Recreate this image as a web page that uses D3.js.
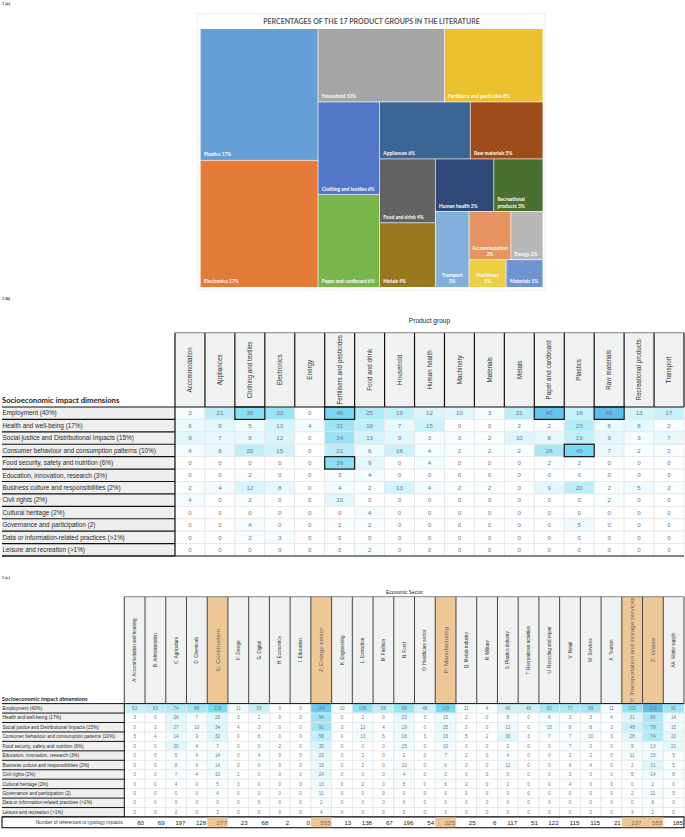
<!DOCTYPE html>
<html lang="en">
<head>
  <meta charset="UTF-8">
  <title>Product groups and socioeconomic impacts</title>
  <script src="https://d3js.org/d3.v7.min.js"></script>
  <style>
    html, body { margin: 0; background: #fff; }
    svg { display: block; }
    text { font-family: "Liberation Sans", Arial, sans-serif; }
    .calibri { font-family: Lato, sans-serif; }
  </style>
</head>
<body>
<svg id="canvas" width="685" height="837"></svg>
<script>
// ----- panel (a) treemap -----
const treemapNames = ["Plastics", "Electronics", "Household", "Fertilisers and pesticides", "Clothing and textiles",
  "Paper and cardboard", "Appliances", "Raw materials", "Food and drink", "Metals", "Human health",
  "Recreational products", "Transport", "Accommodation", "Energy", "Machinery", "Materials"];
const treemapShare = [17.4, 16.8, 10.4, 8.1, 6.4, 6.4, 5.8, 4.65, 4.0, 4.04, 3.45, 2.9, 2.87, 2.27, 1.74, 1.15, 1.14];
const treemapColors = ["#659fd6", "#e57b39", "#a5a5a5", "#ebc12f", "#5277c6", "#78b64b", "#3a6594", "#a04c1a",
  "#636363", "#97781e", "#304978", "#4a702f", "#82afdb", "#e69460", "#b7b7b7", "#edcf43", "#7093d2"];
// how the tiles nest, alternating left-right and top-bottom splits (indexes into the arrays above)
const treemapNesting = [[0, 1], [[2, 3], [[4, 5], [[6, 7], [[8, 9], [[10, 11], [[12], [[13, 14], [15, 16]]]]]]]]];
const wrappedLeft = ["Recreational products"];
const wrappedCentre = ["Transport", "Accommodation", "Machinery"];

// ----- panel (b) product groups -----
const productGroups = ["Accommodation", "Appliances", "Clothing and textiles", "Electronics", "Energy",
  "Fertilisers and pesticides", "Food and drink", "Household", "Human health", "Machinery", "Materials", "Metals",
  "Paper and cardboard", "Plastics", "Raw materials", "Recreational products", "Transport"];
const dimensions = ["Employment (40%)", "Health and well-being (17%)", "Social justice and Distributional Impacts (15%)",
  "Consumer behaviour and consumption patterns (10%)", "Food security, safety and nutrition (6%)",
  "Education, innovation, research (3%)", "Business culture and responsibilities (2%)", "Civil rights (2%)",
  "Cultural heritage (2%)", "Governance and participation (2)", "Data or information-related practices (>1%)",
  "Leisure and recreation (>1%)"];
const productValues = [
  [3, 21, 38, 33, 0, 46, 25, 19, 12, 10, 3, 21, 60, 18, 65, 13, 17],
  [6, 9, 5, 13, 4, 31, 19, 7, 15, 0, 0, 2, 2, 23, 6, 8, 2],
  [9, 7, 8, 12, 0, 34, 13, 9, 3, 3, 2, 10, 8, 19, 9, 3, 7],
  [4, 8, 20, 15, 0, 21, 6, 16, 4, 2, 2, 2, 28, 45, 7, 2, 2],
  [0, 0, 0, 0, 0, 39, 9, 0, 4, 0, 0, 0, 2, 2, 0, 0, 0],
  [0, 0, 2, 0, 0, 3, 4, 0, 0, 0, 0, 0, 0, 0, 0, 0, 0],
  [2, 4, 12, 8, 0, 4, 2, 13, 4, 2, 2, 0, 9, 20, 2, 5, 2],
  [4, 0, 2, 0, 0, 10, 0, 0, 0, 0, 0, 0, 0, 0, 2, 0, 0],
  [0, 0, 0, 0, 0, 0, 4, 0, 0, 0, 0, 0, 0, 0, 0, 0, 0],
  [0, 0, 4, 0, 0, 2, 2, 0, 0, 0, 0, 0, 0, 5, 0, 0, 0],
  [0, 0, 2, 3, 0, 0, 0, 0, 0, 0, 0, 0, 0, 0, 0, 0, 0],
  [0, 0, 0, 0, 0, 0, 2, 0, 0, 0, 0, 0, 0, 0, 0, 0, 0]
];
const productBoxed = [[0, 2], [0, 5], [0, 12], [0, 14], [3, 13], [4, 5]];

// ----- panel (c) economic sectors -----
const sectors = ["A: Accommodation and housing", "B: Administration", "C: Agriculture", "D: Chemicals", "E: Construction",
  "F: Design", "G: Digital", "H: Economics", "I: Education", "J: Energy sector", "K: Engineering", "L: Extraction",
  "M: Fashion", "N: Food", "O: Healthcare sector", "P: Manufacturing", "Q: Metals industry", "R: Military",
  "S: Plastics industry", "T: Recreational activities", "U: Recycling and repair", "V: Retail", "W: Services",
  "X: Tourism", "Y: Transportation and storage services", "Z: Waste", "AA: Water supply"];
const sectorValues = [
  [52, 63, 74, 88, 128, 11, 53, 0, 0, 184, 10, 105, 58, 99, 48, 135, 11, 4, 46, 48, 82, 77, 89, 11, 102, 228, 91],
  [3, 0, 26, 7, 28, 3, 2, 0, 0, 94, 0, 2, 0, 23, 3, 15, 2, 0, 8, 0, 8, 3, 3, 4, 31, 80, 14],
  [0, 2, 27, 10, 34, 4, 3, 0, 0, 91, 3, 12, 4, 19, 0, 25, 3, 0, 13, 0, 15, 8, 8, 3, 48, 79, 15],
  [5, 4, 14, 9, 32, 0, 6, 0, 0, 58, 0, 13, 5, 18, 3, 16, 5, 2, 30, 3, 7, 7, 10, 3, 28, 74, 22],
  [0, 0, 30, 4, 7, 0, 0, 2, 0, 35, 0, 0, 0, 15, 0, 10, 0, 0, 2, 0, 0, 7, 0, 0, 9, 13, 21],
  [0, 0, 5, 4, 14, 0, 4, 0, 0, 23, 0, 2, 0, 2, 0, 7, 2, 0, 4, 0, 0, 2, 2, 0, 11, 15, 5],
  [0, 0, 8, 4, 14, 0, 0, 0, 0, 18, 0, 2, 0, 10, 0, 6, 0, 0, 12, 0, 0, 4, 4, 0, 2, 31, 5],
  [0, 0, 7, 4, 10, 2, 0, 0, 0, 24, 0, 0, 0, 4, 0, 2, 0, 0, 0, 0, 0, 3, 0, 0, 5, 14, 8],
  [0, 0, 4, 0, 5, 3, 0, 0, 0, 13, 0, 2, 0, 8, 0, 6, 2, 0, 2, 0, 0, 4, 0, 0, 0, 2, 0],
  [0, 0, 0, 0, 4, 0, 0, 0, 0, 11, 0, 0, 0, 0, 0, 0, 0, 0, 0, 0, 0, 0, 0, 0, 2, 11, 5],
  [0, 0, 0, 0, 0, 0, 0, 0, 0, 2, 0, 0, 0, 0, 0, 0, 0, 0, 0, 0, 0, 0, 0, 0, 0, 6, 0],
  [0, 0, 2, 0, 3, 0, 0, 0, 0, 4, 0, 0, 0, 0, 0, 3, 0, 0, 0, 0, 0, 0, 0, 0, 3, 2, 0]
];
const sectorTotals = [60, 69, 197, 128, 277, 23, 68, 2, 0, 555, 13, 138, 67, 196, 54, 225, 25, 6, 117, 51, 122, 115, 115, 21, 237, 553, 185];
const sectorHighlights = ["E: Construction", "J: Energy sector", "P: Manufacturing", "Y: Transportation and storage services", "Z: Waste"];

const svg = d3.select("#canvas");

function note(label, y) {
  svg.append("text").attr("x", 2).attr("y", y).text(label)
    .style("font-family", "Liberation Serif").style("font-size", "4.2px").attr("font-weight", "bold").attr("fill", "#222");
}
note("5 (a)", 5);
note("5 (b)", 299.5);
note("5 (c)", 579);

// ----- treemap -----
function drawTreemap() {
  svg.append("rect").attr("x", 197.5).attr("y", 13.5).attr("width", 347.5).attr("height", 276.5)
    .attr("fill", "#fff").attr("stroke", "#e9e9e9").attr("stroke-width", 0.8);
  svg.append("text").attr("class", "calibri").attr("x", 371.5).attr("y", 24).attr("text-anchor", "middle")
    .attr("font-size", 7).attr("font-weight", "bold").attr("fill", "#595959")
    .text("PERCENTAGES OF THE 17 PRODUCT GROUPS IN THE LITERATURE");

  const root = d3.hierarchy(treemapNesting, d => Array.isArray(d) ? d : null)
    .sum(d => Array.isArray(d) ? 0 : treemapShare[d]);
  d3.treemap().tile(d3.treemapSliceDice).size([342, 258]).paddingInner(0.7)(root);

  const tile = svg.append("g").attr("transform", "translate(200.6,29)")
    .selectAll("g").data(root.leaves()).enter().append("g");

  tile.append("rect")
    .attr("x", d => d.x0).attr("y", d => d.y0)
    .attr("width", d => d.x1 - d.x0).attr("height", d => d.y1 - d.y0)
    .attr("fill", d => treemapColors[d.data]);

  tile.each(function (d) {
    const name = treemapNames[d.data];
    const pct = Math.round(treemapShare[d.data]) + "%";
    const left = wrappedLeft.includes(name);
    const centre = wrappedCentre.includes(name);
    let lines = [name + " " + pct];
    if (left) lines = ["Recreational", "products " + pct];
    if (centre) lines = [name, pct];
    d3.select(this).selectAll("text").data(lines).enter().append("text").attr("class", "calibri")
      .attr("x", centre ? (d.x0 + d.x1) / 2 : d.x0 + 3.4)
      .attr("y", (t, i) => d.y1 - 3.6 - (lines.length - 1 - i) * 6.3)
      .attr("text-anchor", centre ? "middle" : "start")
      .attr("font-size", 4.9).attr("font-weight", "bold").attr("fill", "#fff").text(t => t);
  });
}
drawTreemap();

// ----- tables -----
function drawTable(cfg) {
  const g = svg.append("g");
  const x = d3.scaleBand().domain(d3.range(cfg.columns.length)).range([cfg.left, cfg.right]);
  const y = d3.scaleBand().domain(d3.range(dimensions.length)).range([cfg.bodyTop, cfg.bodyBottom]);
  const color = d3.scaleLinear().domain(cfg.colorDomain).range(["#ffffff", "#bdeef9", "#74daf5", "#5bbdf0"]);
  const isHighlight = name => (cfg.highlights || []).includes(name);

  // column headers
  const head = g.append("g").selectAll("g").data(cfg.columns).enter().append("g");
  head.append("rect")
    .attr("x", (d, i) => x(i)).attr("y", cfg.headTop)
    .attr("width", x.bandwidth()).attr("height", cfg.bodyTop - cfg.headTop)
    .attr("fill", d => isHighlight(d) ? "#edc796" : "#f0f1f1");
  head.append("text")
    .attr("transform", (d, i) => `translate(${x(i) + x.bandwidth() / 2},${(cfg.headTop + cfg.bodyTop) / 2}) rotate(-90)`)
    .attr("text-anchor", "middle").attr("dy", "0.35em")
    .attr("font-size", d => isHighlight(d) ? cfg.bigHeadSize : cfg.headSize)
    .attr("fill", d => isHighlight(d) ? "#6b5a6a" : "#333")
    .text(d => d);

  // row labels
  const rowG = g.append("g").selectAll("g").data(dimensions).enter().append("g");
  rowG.append("rect")
    .attr("x", 2).attr("y", (d, i) => y(i))
    .attr("width", cfg.left - 2).attr("height", y.bandwidth())
    .attr("fill", "#eeeeee");
  rowG.append("text")
    .attr("x", 2.4).attr("y", (d, i) => y(i) + y.bandwidth() / 2).attr("dy", "0.35em")
    .attr("font-size", cfg.rowSize).attr("fill", "#2b2b2b").text(d => d);

  // value cells
  const cells = [];
  cfg.values.forEach((row, r) => row.forEach((v, c) => cells.push({ r, c, v })));
  const cell = g.append("g").selectAll("g").data(cells).enter().append("g");
  cell.append("rect")
    .attr("x", d => x(d.c)).attr("y", d => y(d.r))
    .attr("width", x.bandwidth()).attr("height", y.bandwidth())
    .attr("fill", d => color(d.v))
    .attr("stroke", "#e6e6e6").attr("stroke-width", 0.8);
  cell.append("text")
    .attr("x", d => x(d.c) + x.bandwidth() / 2).attr("y", d => y(d.r) + y.bandwidth() / 2)
    .attr("dy", "0.35em").attr("text-anchor", "middle")
    .attr("font-size", cfg.cellSize).attr("fill", "#777").text(d => d.v);

  // heavy rules
  const rule = (x1, y1, x2, y2, w, c) => g.append("line")
    .attr("x1", x1).attr("y1", y1).attr("x2", x2).attr("y2", y2)
    .attr("stroke", c || "#111").attr("stroke-width", w);
  cfg.columns.forEach((d, i) => rule(x(i), cfg.headTop, x(i), cfg.bodyTop, cfg.headRule, cfg.headRuleColor));
  rule(cfg.right, cfg.headTop, cfg.right, cfg.bodyTop, cfg.headRule, cfg.headRuleColor);
  rule(cfg.left, cfg.headTop, cfg.right, cfg.headTop, 0.8, "#666");
  rule(2, cfg.bodyTop, cfg.right, cfg.bodyTop, cfg.headRule);
  dimensions.forEach((d, i) => rule(2, y(i) + y.bandwidth(), cfg.left, y(i) + y.bandwidth(), cfg.headRule));
  rule(cfg.left, cfg.bodyTop, cfg.left, cfg.bodyBottom, cfg.headRule);
  rule(2, cfg.bodyBottom, cfg.right, cfg.bodyBottom, cfg.headRule);

  (cfg.boxed || []).forEach(b => {
    g.append("rect").attr("x", x(b[1])).attr("y", y(b[0]))
      .attr("width", x.bandwidth()).attr("height", y.bandwidth())
      .attr("fill", "none").attr("stroke", "#111").attr("stroke-width", 1.2);
  });

  // titles
  g.append("text").attr("class", "calibri").attr("x", 2).attr("y", cfg.dimY)
    .attr("font-size", cfg.dimSize).attr("font-weight", "bold").attr("fill", "#222")
    .text("Socioeconomic impact dimensions");
  g.append("text").attr("x", cfg.titleX).attr("y", cfg.titleY).attr("text-anchor", "middle")
    .attr("font-size", cfg.titleSize).attr("fill", "#222").text(cfg.title);

  // totals row
  if (cfg.totals) {
    const top = cfg.bodyBottom, bottom = cfg.bodyBottom + 10.7;
    g.append("rect").attr("x", 2).attr("y", top).attr("width", cfg.right - 2).attr("height", bottom - top)
      .attr("fill", "#fff").attr("stroke", "#111").attr("stroke-width", 1.1);
    cfg.columns.forEach((d, i) => {
      if (isHighlight(d)) {
        g.append("rect").attr("x", x(i)).attr("y", top + 0.5).attr("width", x.bandwidth()).attr("height", bottom - top - 1)
          .attr("fill", "#edc796");
      }
      g.append("text").attr("x", x(i) + x.bandwidth() - 1).attr("y", (top + bottom) / 2).attr("dy", "0.35em")
        .attr("text-anchor", "end").attr("font-size", 6.2)
        .attr("fill", isHighlight(d) ? "#7d6a58" : "#222").text(cfg.totals[i]);
    });
    g.append("text").attr("x", cfg.left - 0.5).attr("y", (top + bottom) / 2).attr("dy", "0.35em")
      .attr("text-anchor", "end").attr("font-size", 4.7).attr("fill", "#333")
      .text("Number of references to typology impacts.");
  }
}

drawTable({
  columns: productGroups, values: productValues, boxed: productBoxed,
  left: 175, right: 684, headTop: 332.7, bodyTop: 407, bodyBottom: 556,
  colorDomain: [0, 20, 45, 65], headSize: 6.3, rowSize: 6.4, cellSize: 6.2,
  headRule: 1.2, headRuleColor: "#111",
  dimY: 403, dimSize: 7.7,
  title: "Product group", titleX: 429.5, titleY: 323, titleSize: 6.6
});

drawTable({
  columns: sectors, values: sectorValues, totals: sectorTotals, highlights: sectorHighlights,
  left: 124.3, right: 684, headTop: 596.7, bodyTop: 703.6, bodyBottom: 817,
  colorDomain: [0, 60, 130, 230], headSize: 4.5, bigHeadSize: 6.2, rowSize: 4.7, cellSize: 4.6,
  headRule: 1, headRuleColor: "#444",
  dimY: 701, dimSize: 5.6,
  title: "Economic Sector", titleX: 404.5, titleY: 593.5, titleSize: 4.9
});
</script>
</body>
</html>
